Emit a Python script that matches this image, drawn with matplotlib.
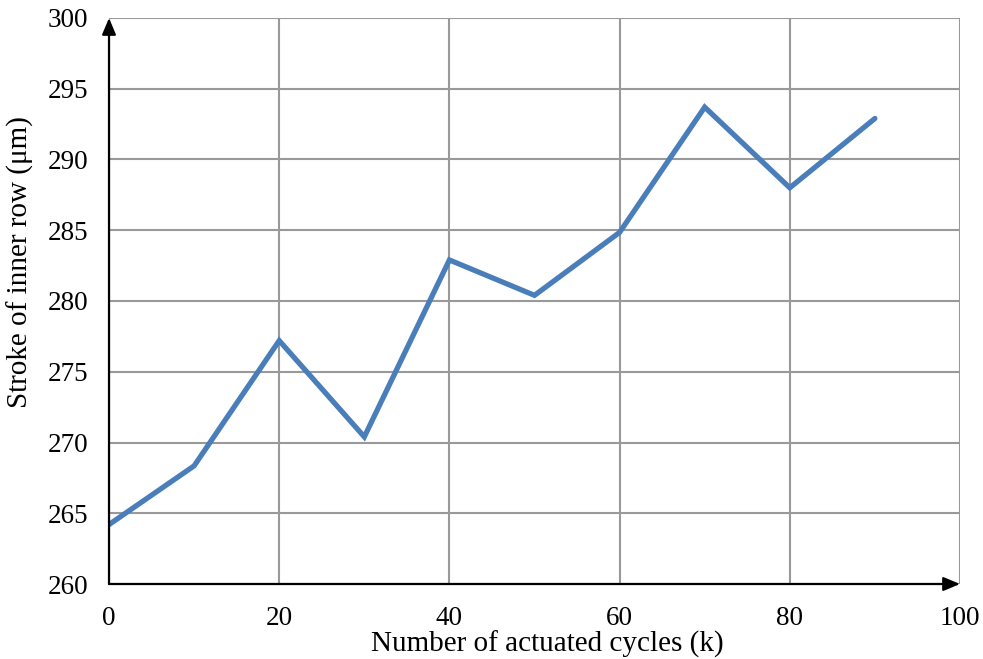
import matplotlib
matplotlib.use("Agg")
import matplotlib.pyplot as plt

cycles = [0, 10, 20, 30, 40, 50, 60, 70, 80, 90]
stroke = [264.2, 268.35, 277.2, 270.4, 282.9, 280.4, 284.85, 293.7, 288.0, 292.9]
x_ticks = [0, 20, 40, 60, 80, 100]
y_ticks = [260, 265, 270, 275, 280, 285, 290, 295, 300]

plt.rcParams['font.family'] = ['Liberation Serif', 'DejaVu Serif']

fig = plt.figure(figsize=(9.83, 6.59), dpi=100)
ax = fig.add_axes([0.1109, 0.1138, 0.9766 - 0.1109, 0.9727 - 0.1138])

ax.set_xlim(0, 100)
ax.set_ylim(260, 300)
ax.set_xticks(x_ticks)
ax.set_yticks(y_ticks)
ax.grid(True, color='#999999', linewidth=1.5)
ax.set_axisbelow(True)
for s in ax.spines.values():
    s.set_visible(False)
ax.tick_params(length=0, labelsize=19.5, colors='black')
ax.tick_params(axis='x', pad=16)
ax.tick_params(axis='y', pad=15)

ax.plot(cycles, stroke, color='#4A7EBB', linewidth=3.8, solid_capstyle='round', solid_joinstyle='miter', zorder=3)

arrowprops = dict(arrowstyle='-|>,head_length=1.0,head_width=0.42', color='black', lw=1.6, shrinkA=0, shrinkB=0)
ax.annotate('', xy=(100, 260), xytext=(0, 260), arrowprops=arrowprops, annotation_clip=False, zorder=4)
ax.annotate('', xy=(0, 300), xytext=(0, 260), arrowprops=arrowprops, annotation_clip=False, zorder=4)

ax.set_xlabel('Number of actuated cycles (k)', fontsize=21)
ax.set_ylabel('Stroke of inner row (μm)', fontsize=21)
ax.xaxis.set_label_coords((547 - 109) / 851, (584 - 644) / 566)
ax.yaxis.set_label_coords((20 - 109) / 851, (584 - 262) / 566)
ax.xaxis.label.set_va('center')
ax.yaxis.label.set_va('center')

fig.savefig('out.png', dpi=100)
